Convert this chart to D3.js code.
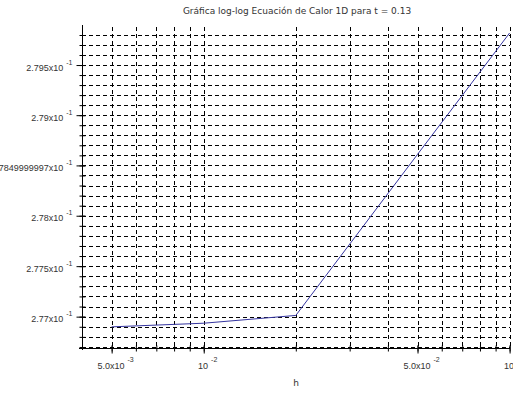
<!DOCTYPE html>
<html>
<head>
<meta charset="utf-8">
<script src="https://cdn.jsdelivr.net/npm/d3@7"></script>
<style>
  body { margin: 0; background: #fff; }
  svg { display: block; font-family: "DejaVu Sans", sans-serif; }
</style>
</head>
<body>
<svg id="chart" width="513" height="394"></svg>
<script>
// data
const hValues = [0.005, 0.01, 0.02, 0.05, 0.1];
const errValues = [0.276899, 0.276935, 0.277012, 0.27861, 0.27982];

// ticks
const xMajor = [0.005, 0.01, 0.05, 0.1];
const xLabels = ["5.0x10", "10", "5.0x10", "10"];
const xExps = ["-3", "-2", "-2", "-1"];
const xMinor = [0.005, 0.006, 0.007, 0.008, 0.009, 0.01, 0.02, 0.03, 0.04, 0.05, 0.06, 0.07, 0.08, 0.09, 0.1];
const yMajor = [0.277, 0.2775, 0.278, 0.2785, 0.279, 0.2795];
const yLabels = ["2.77x10", "2.775x10", "2.78x10", "2.7849999997x10", "2.79x10", "2.795x10"];
const yMinor = d3.range(2767, 2799).map(d => d / 10000);

const title = "Gráfica log-log Ecuación de Calor 1D para t = 0.13";

const plotL = 82, plotR = 510, plotT = 27, plotB = 348;

const svg = d3.select("#chart");

const x = d3.scaleLog().domain([0.004, 0.1]).range([plotL, 509.6]);
const y = d3.scaleLog().domain([0.27669, 0.27988]).range([plotB, plotT]);

// grid
const grid = svg.append("g")
  .attr("stroke", "#000")
  .attr("stroke-width", 1)
  .attr("stroke-dasharray", "4,3")
  .attr("shape-rendering", "crispEdges");

grid.selectAll(".vg").data(xMinor).enter().append("line")
  .attr("x1", d => Math.round(x(d)) + 0.5).attr("x2", d => Math.round(x(d)) + 0.5)
  .attr("y1", plotT).attr("y2", plotB);

grid.selectAll(".hg").data(yMinor).enter().append("line")
  .attr("x1", plotL).attr("x2", plotR)
  .attr("y1", d => Math.round(y(d)) + 0.5).attr("y2", d => Math.round(y(d)) + 0.5);

// the curve
svg.append("path")
  .datum(hValues.map((h, i) => [h, errValues[i]]))
  .attr("fill", "none")
  .attr("stroke", "#3535a0")
  .attr("stroke-width", 1)
  .attr("d", d3.line().x(d => x(d[0])).y(d => y(d[1])));

// left axis
const yAxisMinor = svg.append("g")
  .attr("transform", "translate(" + (plotL + 0.5) + ",0)")
  .call(d3.axisLeft(y).tickValues(yMinor).tickFormat("").tickSizeInner(3).tickSizeOuter(0));
yAxisMinor.selectAll(".tick line").attr("x2", -3).attr("x1", 3);
yAxisMinor.select(".domain").remove();

const yAxis = svg.append("g")
  .attr("transform", "translate(" + (plotL + 0.5) + ",0)")
  .call(d3.axisLeft(y).tickValues(yMajor).tickFormat("").tickSizeInner(6).tickSizeOuter(0));
yAxis.selectAll(".tick line").attr("x1", 3);
yAxis.select(".domain").attr("d", "M0," + (plotT - 2) + "V" + (plotB + 2));

yAxis.selectAll(".tick").each(function(d, i) {
  const t = d3.select(this).append("text")
    .attr("x", -10).attr("y", 5)
    .attr("text-anchor", "end")
    .attr("fill", "#333")
    .attr("font-size", "9px");
  t.append("tspan").text(yLabels[i]);
  t.append("tspan").attr("dx", 3).attr("dy", -6).attr("font-size", "7px").text("-1");
});

// bottom axis
const xAxisMinor = svg.append("g")
  .attr("transform", "translate(0," + (plotB + 0.5) + ")")
  .call(d3.axisBottom(x).tickValues(xMinor).tickFormat("").tickSizeInner(3).tickSizeOuter(0));
xAxisMinor.selectAll(".tick line").attr("y1", -3);
xAxisMinor.select(".domain").remove();

const xAxis = svg.append("g")
  .attr("transform", "translate(0," + (plotB + 0.5) + ")")
  .call(d3.axisBottom(x).tickValues(xMajor).tickFormat("").tickSizeInner(5).tickSizeOuter(0));
xAxis.selectAll(".tick line").attr("y1", -3);
xAxis.select(".domain").attr("d", "M" + (plotL - 3) + ",0H" + plotR);

xAxis.selectAll(".tick").each(function(d, i) {
  const t = d3.select(this).append("text")
    .attr("y", 20)
    .attr("fill", "#333")
    .attr("font-size", "9px")
    .attr("text-anchor", "start");
  t.append("tspan").text(xLabels[i]);
  t.append("tspan").attr("dx", 3).attr("dy", -7).attr("font-size", "7px").text(xExps[i]);
  const w = t.node().getComputedTextLength();
  t.attr("x", -w / 2 + 2);
});

// axis label
svg.append("text")
  .attr("x", 296).attr("y", 386)
  .attr("text-anchor", "middle")
  .attr("fill", "#333")
  .attr("font-size", "9px")
  .text("h");

// title
svg.append("text")
  .attr("x", 297).attr("y", 14)
  .attr("text-anchor", "middle")
  .attr("fill", "#333")
  .attr("font-size", "9px")
  .text(title);
</script>
</body>
</html>
